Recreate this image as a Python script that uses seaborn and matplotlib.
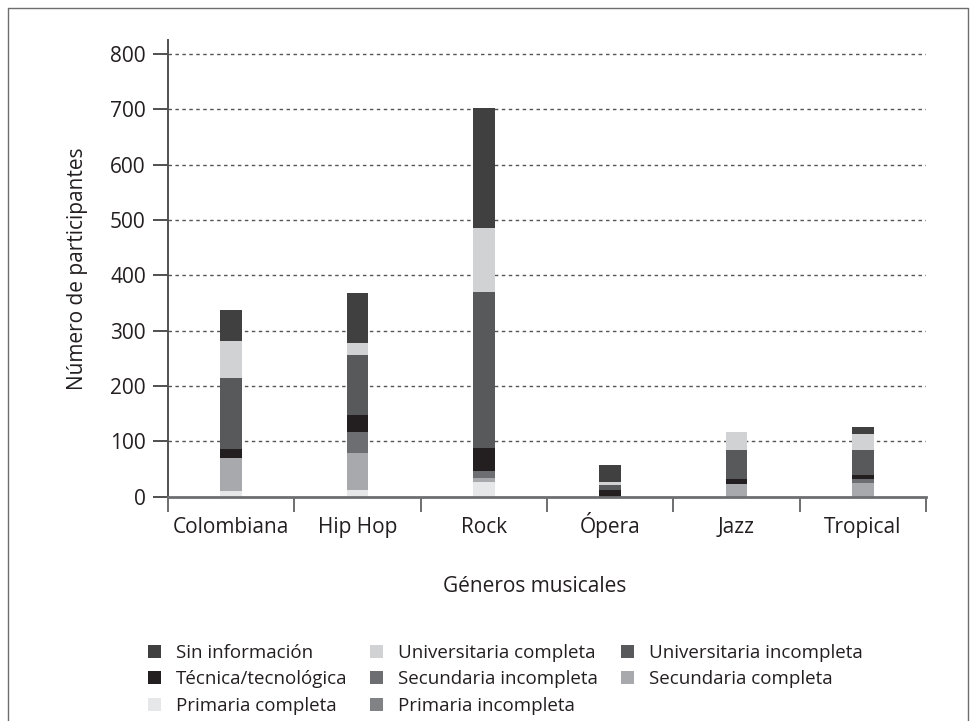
import numpy as np
import pandas as pd
import matplotlib
matplotlib.use("Agg")
import matplotlib.pyplot as plt
import seaborn as sns
from matplotlib.patches import Patch
from matplotlib.lines import Line2D
from matplotlib.ticker import FixedLocator

# ---------------- data ----------------
genres = ["Colombiana", "Hip Hop", "Rock", "Ópera", "Jazz", "Tropical"]

# stacked layers, listed bottom -> top
primaria_incompleta = [0, 0, 0, 0, 0, 0]
primaria_completa = [11, 12, 27, 0, 0, 0]
secundaria_completa = [59, 67, 7, 0, 23, 25]
secundaria_incompleta = [0, 38, 13, 0, 0, 7]
tecnica = [16, 31, 41, 13, 9, 7]
univ_incompleta = [129, 108, 282, 9, 52, 45]
univ_completa = [66, 22, 116, 4, 33, 29]
sin_informacion = [56, 90, 216, 31, 0, 13]

layer_names = ["Primaria incompleta", "Primaria completa", "Secundaria completa",
               "Secundaria incompleta", "Técnica/tecnológica", "Universitaria incompleta",
               "Universitaria completa", "Sin información"]
layer_values = [primaria_incompleta, primaria_completa, secundaria_completa,
                secundaria_incompleta, tecnica, univ_incompleta, univ_completa,
                sin_informacion]
layer_colors = ["#808285", "#e6e7e8", "#a7a9ac", "#6d6e71", "#231f20",
                "#58595b", "#d1d2d4", "#404041"]

legend_order = ["Sin información", "Universitaria completa", "Universitaria incompleta",
                "Técnica/tecnológica", "Secundaria incompleta", "Secundaria completa",
                "Primaria completa", "Primaria incompleta"]

y_ticks = [0, 100, 200, 300, 400, 500, 600, 700, 800]

# ---------------- style ----------------
sns.set_theme(style="white")
plt.rcParams["font.family"] = ["Open Sans", "DejaVu Sans"]
TEXT = "#231f20"

fig = plt.figure(figsize=(9.76, 7.21), dpi=100)
ax = fig.add_axes([168 / 976, 1 - 496.7 / 721, (926 - 168) / 976, (496.7 - 40) / 721])

df = pd.DataFrame({"genre": genres})
cum = np.zeros(len(genres))
cums = []
for vals in layer_values:
    cum = cum + np.array(vals, dtype=float)
    cums.append(cum.copy())

# draw from top layer (cumulative total) down to bottom layer
for name, color, c in reversed(list(zip(layer_names, layer_colors, cums))):
    d = df.copy()
    d["value"] = c
    sns.barplot(data=d, x="genre", y="value", order=genres, color=color,
                saturation=1, width=0.174, errorbar=None, ax=ax, linewidth=0)

ax.set_xlim(-0.5, 5.5)
ax.set_ylim(0, 825)

# grid
for yv in y_ticks[1:]:
    ax.axhline(yv, color="#555555", linestyle=(0, (2.5, 2.5)), linewidth=1.0, zorder=0)

for s in ["top", "right"]:
    ax.spines[s].set_visible(False)
ax.spines["left"].set_color("#505050")
ax.spines["left"].set_linewidth(1.4)
ax.spines["bottom"].set_color("#6d6e70")
ax.spines["bottom"].set_linewidth(2.0)

ax.yaxis.set_major_locator(FixedLocator(y_ticks))
ax.set_yticklabels([str(v) for v in y_ticks])
ax.xaxis.set_major_locator(FixedLocator(range(len(genres))))
ax.set_xticklabels(genres)
ax.xaxis.set_minor_locator(FixedLocator(np.arange(-0.5, len(genres), 1.0)))

ax.tick_params(axis="y", which="major", direction="out", length=11, width=1.4,
               color="#505050", labelsize=15, labelcolor=TEXT, pad=5, left=True)
ax.tick_params(axis="x", which="major", length=0, labelsize=15, labelcolor=TEXT, pad=26)
ax.tick_params(axis="x", which="minor", direction="out", length=11, width=1.4,
               color="#6d6e70", bottom=True)
for lbl in ax.get_xticklabels():
    lbl.set_verticalalignment("baseline")

ax.set_xlabel("")
ax.set_ylabel("Número de participantes", fontsize=15, color=TEXT, labelpad=16)
fig.text(535 / 976, 1 - 587 / 721, "Géneros musicales", ha="center", va="center",
         fontsize=15, color=TEXT)

# legend (row-major order emulated)
color_of = dict(zip(layer_names, layer_colors))
handles = [Patch(facecolor=color_of[n], edgecolor="none") for n in legend_order]
idx = [0, 3, 6, 1, 4, 7, 2, 5]
leg = fig.legend([handles[i] for i in idx], [legend_order[i] for i in idx],
                 ncol=3, loc="upper left", bbox_to_anchor=(148 / 976, 1 - 644 / 721),
                 frameon=False, fontsize=13.5, handlelength=0.7, handleheight=0.7,
                 handletextpad=0.8, columnspacing=1.2, labelspacing=0.45,
                 borderaxespad=0, borderpad=0)
for t in leg.get_texts():
    t.set_color(TEXT)

# figure frame (top, left, right edges)
frame_x = [8 / 976, 8 / 976, 968 / 976, 968 / 976]
frame_y = [0.0, 1 - 8 / 721, 1 - 8 / 721, 0.0]
fig.add_artist(Line2D(frame_x, frame_y, transform=fig.transFigure,
                      color="#6d6e70", linewidth=1.0))

fig.savefig("out.png", dpi=100)
